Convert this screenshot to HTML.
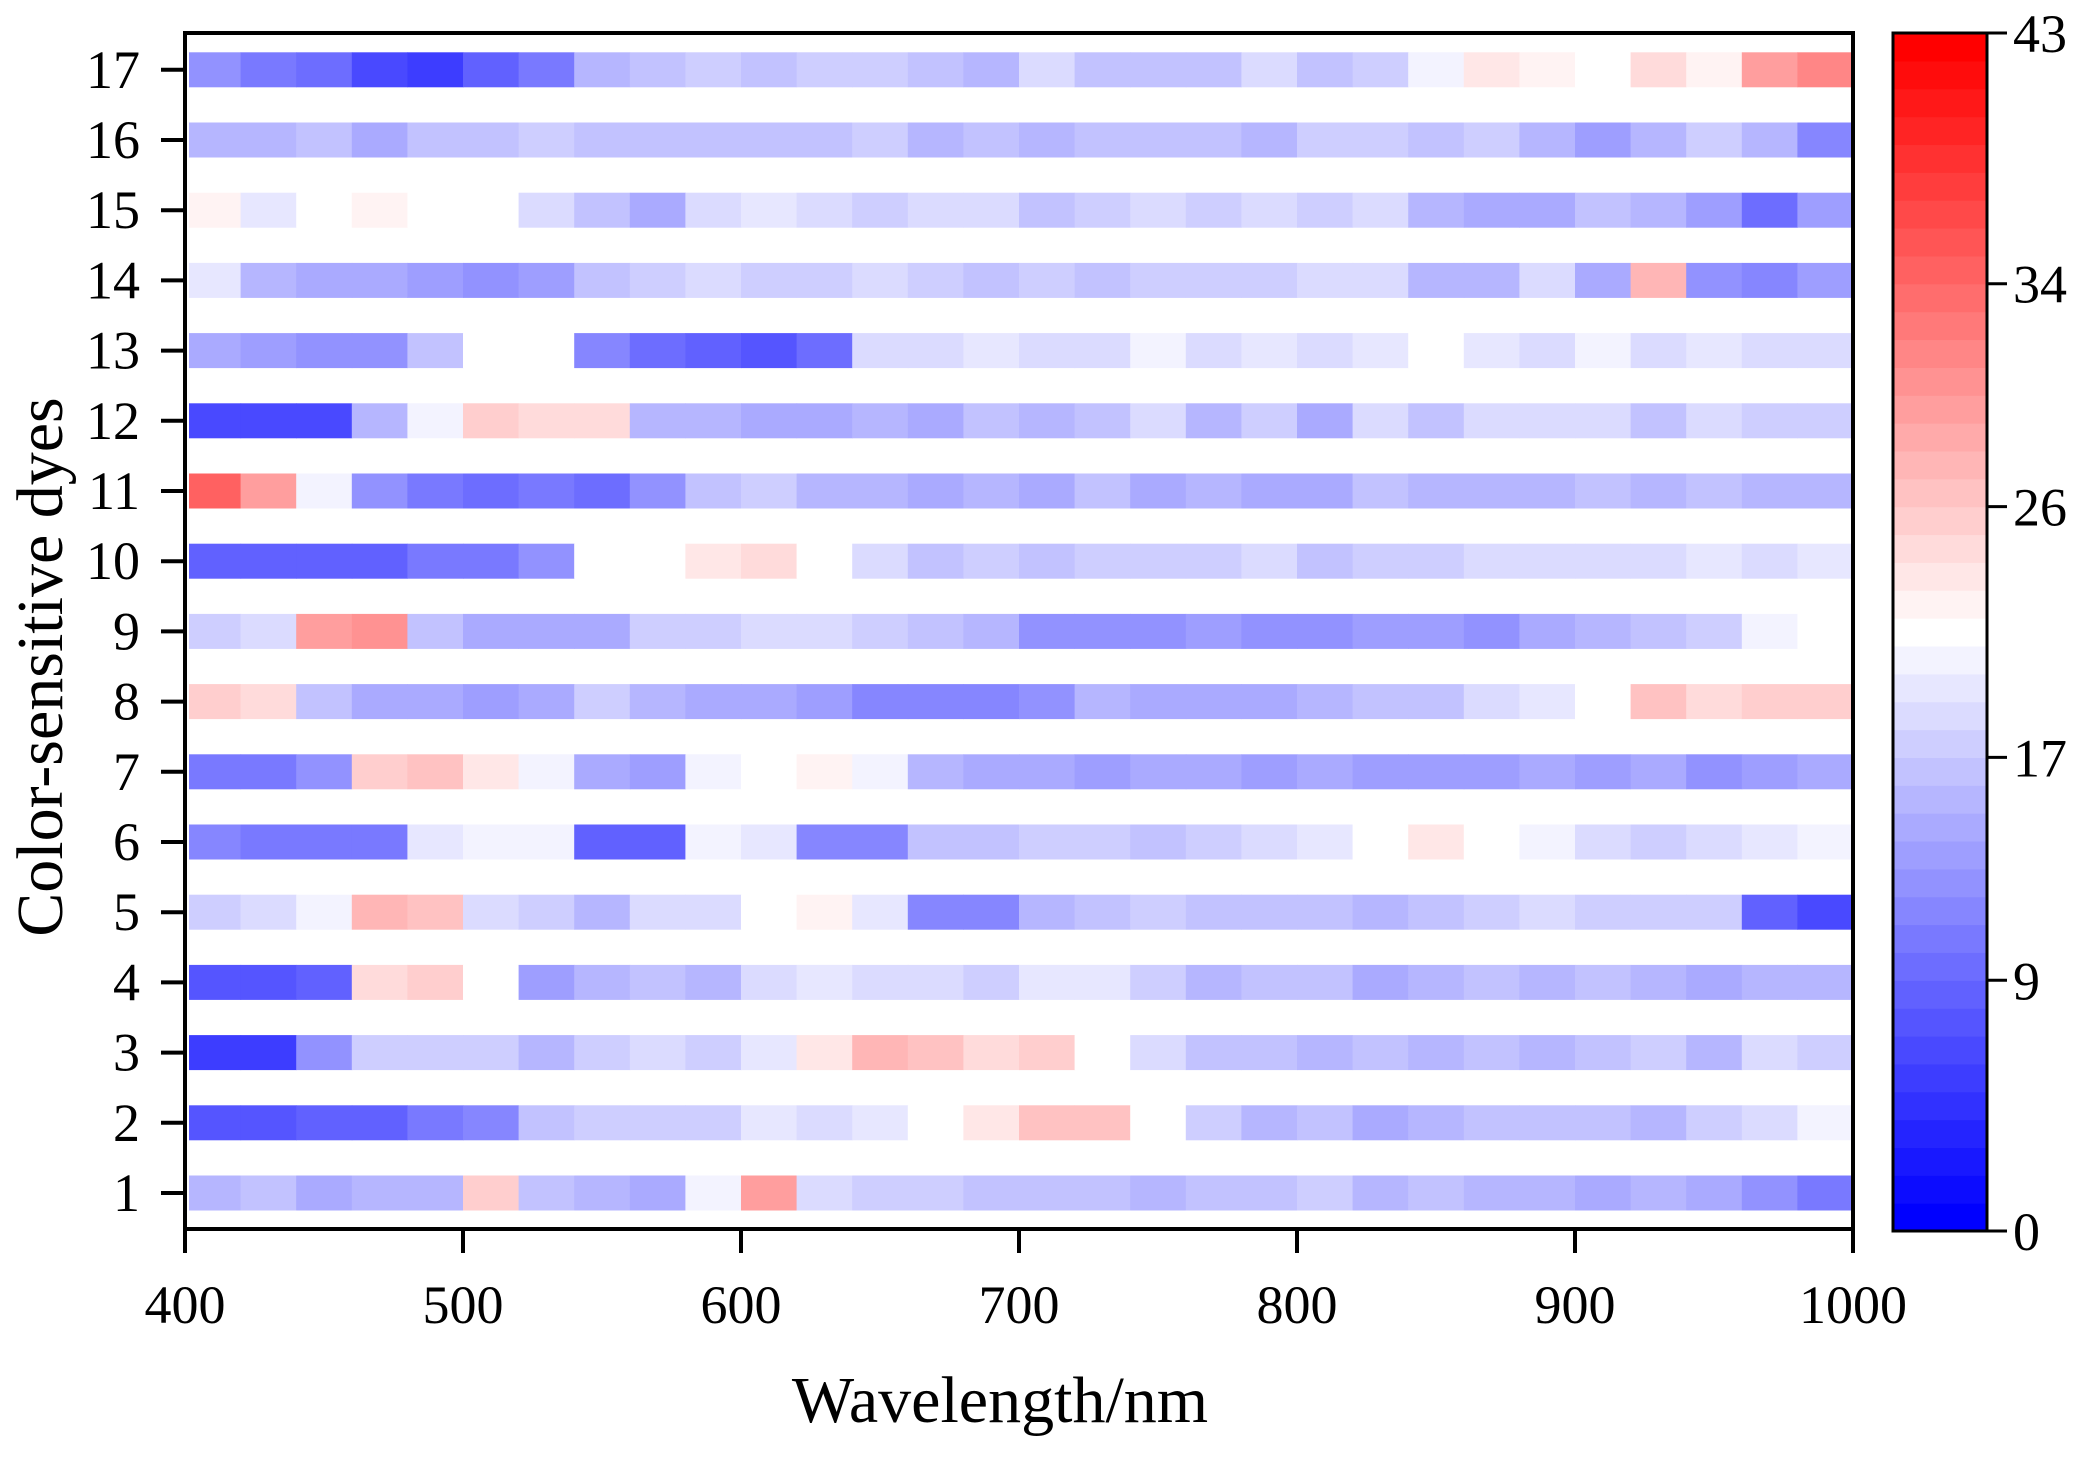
<!DOCTYPE html>
<html><head><meta charset="utf-8"><style>
html,body{margin:0;padding:0;background:#fff}
svg text{font-family:"Liberation Serif",serif;fill:#000}
</style></head><body>
<svg id="chart" width="2090" height="1454" viewBox="0 0 2090 1454" xmlns="http://www.w3.org/2000/svg">
<g id="cells"></g>
<g id="axes"></g>
<g id="cbar"></g>
<text x="1000" y="1422" font-size="66" text-anchor="middle">Wavelength/nm</text>
<text transform="translate(62,667) rotate(-90)" font-size="66" text-anchor="middle">Color-sensitive dyes</text>
</svg>
<script>
const dyes = [1,2,3,4,5,6,7,8,9,10,11,12,13,14,15,16,17];
const binStartsNm = [400,420,440,460,480,500,520,540,560,580,600,620,640,660,680,700,720,740,760,780,800,820,840,860,880,900,920,940,960,980];
const row1 = [15,16,14,15,15,26,16,15,14,20,30,18,17,17,16,16,16,15,16,16,17,15,16,15,15,14,15,14,12,10];
const row2 = [7,7,8,8,10,11,16,17,17,17,19,18,19,21,24,27,27,22,17,15,16,14,15,16,16,16,15,17,18,20];
const row3 = [5,5,12,17,17,17,15,17,18,17,19,24,28,27,25,26,21,18,16,16,15,16,15,16,15,16,17,15,18,17];
const row4 = [7,7,8,25,26,22,13,15,16,15,18,19,18,18,17,19,19,17,15,16,16,14,15,16,15,16,15,14,15,15];
const row5 = [17,18,20,28,27,18,17,15,18,18,21,23,19,11,11,15,16,17,16,16,16,15,16,17,18,17,17,17,8,6];
const row6 = [11,10,10,10,19,20,20,8,8,20,19,11,11,16,16,17,17,16,17,18,19,22,24,22,20,18,17,18,19,20];
const row7 = [10,10,12,26,27,24,20,14,13,20,22,23,20,15,14,14,13,14,14,13,14,13,13,13,14,13,14,12,13,14];
const row8 = [26,25,16,14,14,13,14,17,15,14,14,13,11,11,11,12,15,14,14,14,15,16,16,18,19,21,27,25,26,26];
const row9 = [17,18,30,31,16,14,14,14,17,17,18,18,17,16,15,12,12,12,13,12,12,13,13,12,14,15,16,17,20,22];
const row10 = [8,8,8,8,10,10,12,21,22,24,25,22,18,16,17,16,17,17,17,18,16,17,17,18,18,18,18,19,18,19];
const row11 = [35,30,20,12,10,9,10,9,12,16,17,15,15,14,15,14,16,14,15,14,14,16,15,15,15,16,15,16,15,15];
const row12 = [6,6,6,15,20,26,25,25,15,15,14,14,15,14,16,15,16,18,15,17,14,18,16,18,18,18,16,18,17,17];
const row13 = [14,13,12,12,16,22,22,11,9,8,7,9,18,18,19,18,18,20,18,19,18,19,21,19,18,20,18,19,18,18];
const row14 = [19,15,14,14,13,12,13,16,17,18,17,17,18,17,16,17,16,17,17,17,18,18,15,15,18,14,28,12,11,13];
const row15 = [23,19,22,23,22,21,18,16,14,18,19,18,17,18,18,16,17,18,17,18,17,18,15,14,14,16,15,13,9,13];
const row16 = [15,15,16,14,16,16,17,16,16,16,16,16,17,15,16,15,16,16,16,15,17,17,16,17,15,13,15,17,15,11];
const row17 = [12,10,9,6,5,8,10,15,16,17,16,17,17,16,15,18,16,16,16,18,16,17,20,24,23,22,25,23,30,32];
const rows = [row1,row2,row3,row4,row5,row6,row7,row8,row9,row10,row11,row12,row13,row14,row15,row16,row17];
const xTicks = [400,500,600,700,800,900,1000];
const cbTicks = [0,9,17,26,34,43];
const binWidthNm = 20;
const vMin = 0, vMax = 43;

const NS = "http://www.w3.org/2000/svg";
const X0 = 185, X1 = 1853, YTOP = 33, YBOT = 1229;
const xs = nm => X0 + (nm - 400) / 600 * (X1 - X0);
const yRow = d => 1193 - (d - 1) * 70.2;
function color(v){
  const lv = Math.round((v - vMin) / (vMax - vMin) * 42) / 42;
  if (lv <= 0.5){ const t = lv / 0.5; const c = Math.round(255*t); return `rgb(${c},${c},255)`; }
  const t = (1 - lv) / 0.5; const c = Math.round(255*t); return `rgb(255,${c},${c})`;
}
function mk(tag, attrs, parent){
  const e = document.createElementNS(NS, tag);
  for (const k in attrs) e.setAttribute(k, attrs[k]);
  parent.appendChild(e); return e;
}
const cells = document.getElementById('cells');
rows.forEach((r, i) => {
  const d = dyes[i];
  r.forEach((v, j) => {
    const x0 = xs(binStartsNm[j]) + (j === 0 ? 4 : 0);
    const x1 = xs(binStartsNm[j] + binWidthNm);
    const el = mk('rect', {x: x0, y: yRow(d) - 17.5, width: x1 - x0 + 0.5, height: 35, fill: color(v)}, cells);
    
    
  });
});
const axes = document.getElementById('axes');
let f = mk('rect', {x: X0, y: YTOP, width: X1 - X0, height: YBOT - YTOP, fill: 'none', stroke: '#000', 'stroke-width': 4}, axes);


xTicks.forEach(t => {
  const x = xs(t);
  const l = mk('line', {x1: x, x2: x, y1: YBOT, y2: YBOT + 24, stroke: '#000', 'stroke-width': 4}, axes);
  
  
  const tx = mk('text', {x: x, y: 1323, 'font-size': 54, 'text-anchor': 'middle'}, axes);
  tx.textContent = t;
  
  
});
dyes.forEach(d => {
  const y = yRow(d);
  const l = mk('line', {x1: X0 - 24, x2: X0, y1: y, y2: y, stroke: '#000', 'stroke-width': 4}, axes);
  
  
  const tx = mk('text', {x: 140, y: y + 18, 'font-size': 54, 'text-anchor': 'end'}, axes);
  tx.textContent = d;
  
  
});
const cb = document.getElementById('cbar');
const CX0 = 1893, CX1 = 1987, CT = 33, CB = 1231;
for (let k = 0; k < 43; k++){
  const v = k + 0.5;
  const y1 = CB - (k + 1) / 43 * (CB - CT), y0 = CB - k / 43 * (CB - CT);
  const r = mk('rect', {x: CX0, y: y1, width: CX1 - CX0, height: y0 - y1 + 0.6, fill: color(v)}, cb);
  
  
}
let cf = mk('rect', {x: CX0, y: CT, width: CX1 - CX0, height: CB - CT, fill: 'none', stroke: '#000', 'stroke-width': 3}, cb);


cbTicks.forEach(t => {
  const y = CB - (t - vMin) / (vMax - vMin) * (CB - CT);
  const l = mk('line', {x1: CX1, x2: CX1 + 20, y1: y, y2: y, stroke: '#000', 'stroke-width': 3}, cb);
  
  
  const tx = mk('text', {x: 2013, y: y + 19, 'font-size': 54}, cb);
  tx.textContent = t;
  
  
});
</script>
</body></html>
